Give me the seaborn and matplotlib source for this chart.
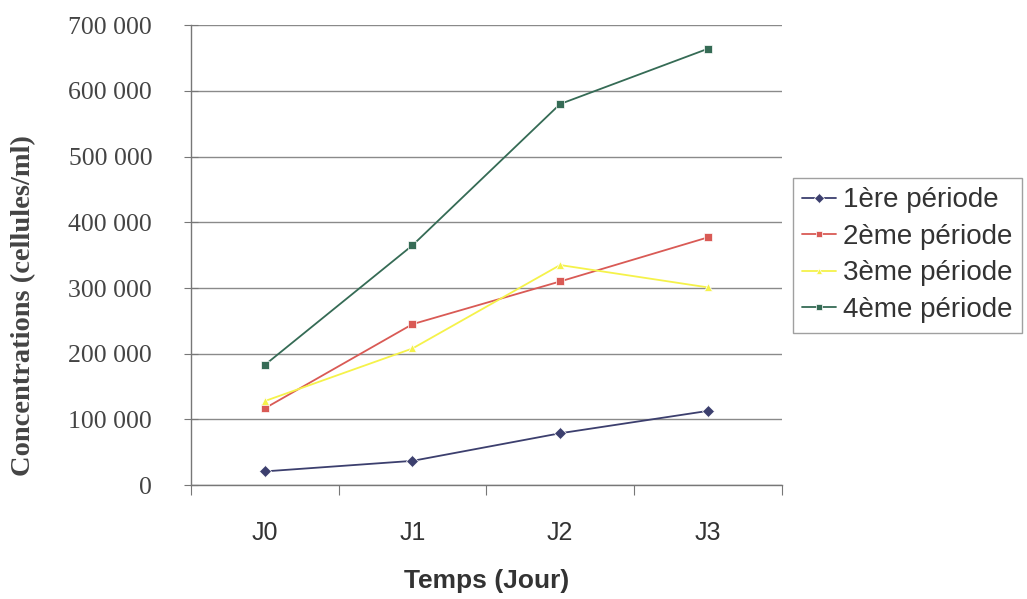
import matplotlib
matplotlib.use("Agg")
import matplotlib.pyplot as plt
import seaborn as sns
import pandas as pd
from matplotlib.ticker import FuncFormatter, FixedLocator

days = ["J0", "J1", "J2", "J3"]
p1 = [21000, 37000, 79000, 113000]
p2 = [117000, 245000, 310000, 377000]
p3 = [128000, 208000, 335000, 301000]
p4 = [183000, 365000, 580000, 664000]
series_names = ["1ère période", "2ème période", "3ème période", "4ème période"]
colors = ["#3c3f6e", "#d95a55", "#f5f24a", "#356b55"]
markers = ["D", "s", "^", "s"]

rows = []
for name, vals in zip(series_names, [p1, p2, p3, p4]):
    for i, v in enumerate(vals):
        rows.append({"day": i, "value": v, "serie": name})
df = pd.DataFrame(rows)

sns.set_style("white")
fig = plt.figure(figsize=(10.27, 5.99), dpi=100)
ax = fig.add_axes([0.186, 0.190, 0.575, 0.768])

sns.lineplot(data=df, x="day", y="value", hue="serie", style="serie",
             palette=colors, markers=markers, dashes=False, markersize=6,
             linewidth=1.3, markeredgewidth=0.5, ax=ax)

ax.set_xlim(-0.5, 3.5)
ax.set_ylim(0, 700000)
ax.set_yticks(range(0, 700001, 100000))
ax.yaxis.set_major_formatter(FuncFormatter(lambda v, p: f"{int(v):,}".replace(",", " ")))
ax.grid(axis="y", color="#8a8a8a", linewidth=1.0)
ax.grid(axis="x", visible=False)

ax.xaxis.set_major_locator(FixedLocator([-0.5, 0.5, 1.5, 2.5, 3.5]))
ax.xaxis.set_major_formatter(FuncFormatter(lambda v, p: ""))
ax.xaxis.set_minor_locator(FixedLocator([0, 1, 2, 3]))
ax.xaxis.set_minor_formatter(FuncFormatter(lambda v, p: days[int(round(v))]))
ax.tick_params(axis="x", which="major", direction="out", length=7, color="#777777", bottom=True)
ax.tick_params(axis="x", which="minor", length=0, pad=26, labelsize=18, labelcolor="#333333")
for lab in ax.get_xticklabels(minor=True):
    lab.set_fontfamily("Liberation Sans")
ax.tick_params(axis="y", direction="inout", length=10, color="#777777", left=True,
               labelsize=18.5, labelcolor="#444444", pad=23)
for lab in ax.get_yticklabels():
    lab.set_fontfamily("Liberation Serif")

for s in ["top", "right"]:
    ax.spines[s].set_visible(False)
for s in ["left", "bottom"]:
    ax.spines[s].set_color("#777777")
    ax.spines[s].set_linewidth(1.0)

ax.set_xlabel("Temps (Jour)", fontsize=19, fontweight="bold", family="Liberation Sans",
              color="#333333", labelpad=17)
ax.set_ylabel("Concentrations (cellules/ml)", fontsize=20.5, fontweight="bold",
              family="Liberation Serif", color="#444444")
ax.yaxis.set_label_coords(-0.262, 0.39)

leg = ax.legend(loc="center left", bbox_to_anchor=(1.0, 0.5), frameon=True,
                fancybox=False, edgecolor="#888888", handlelength=1.2,
                handletextpad=0.25, borderpad=0.35, labelspacing=0.38,
                borderaxespad=0.4, markerscale=0.8,
                prop={"family": "Liberation Sans", "size": 20})
for t in leg.get_texts():
    t.set_color("#333333")
leg.get_frame().set_linewidth(1.0)

fig.savefig("out.png", dpi=100)
